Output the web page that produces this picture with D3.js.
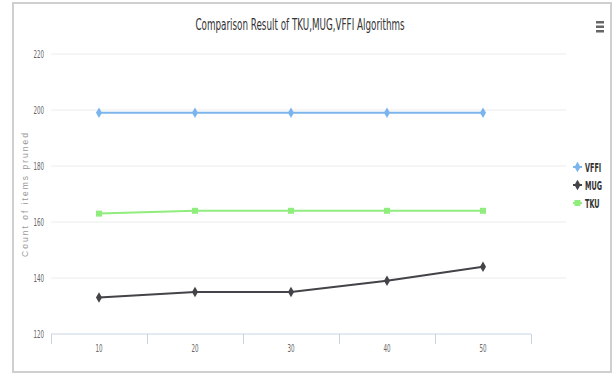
<!DOCTYPE html>
<html><head><meta charset="utf-8">
<script src="https://cdn.jsdelivr.net/npm/d3@7"></script>
<style>
html,body{margin:0;padding:0;background:#fff;}
svg{display:block;}
</style></head>
<body>
<script>
const categories = ["10","20","30","40","50"];
const vffi = [199,199,199,199,199];
const mug = [133,135,135,139,144];
const tku = [163,164,164,164,164];
const yTicks = [120,140,160,180,200,220];
const seriesNames = ["VFFI","MUG","TKU"];
const seriesColors = ["#7cb5ec","#434348","#90ed7d"];
const titleText = "Comparison Result of TKU,MUG,VFFI Algorithms";
const yTitle = "Count of items pruned";

(function(){
const W=616,H=376;
const svg=d3.select("body").append("svg").attr("width",W).attr("height",H);
const cond="'DejaVu Sans Condensed','DejaVu Sans',sans-serif";

function ctext(g,px,py,str,opts){
  const t=g.append("text").attr("transform",`translate(${px},${py}) scale(${opts.sx},1)`)
    .attr("text-anchor",opts.anchor||"start").attr("font-family",opts.family||cond)
    .attr("font-size",opts.size).attr("fill",opts.fill).text(str);
  if(opts.weight) t.attr("font-weight",opts.weight);
  return t;
}

// frame
svg.append("rect").attr("x",13).attr("y",3).attr("width",598).attr("height",369)
  .attr("fill","#fff").attr("stroke","#cfcfcf").attr("stroke-width",2);

const pL=51,pR=531,pT=54,pB=334;
const x=d3.scaleBand().domain(categories).range([pL,pR]);
const y=d3.scaleLinear().domain([120,220]).range([pB,pT]);

// gridlines
svg.append("g").selectAll("line").data(yTicks.filter(d=>d>120)).join("line")
  .attr("x1",pL).attr("x2",566).attr("y1",d=>y(d)).attr("y2",d=>y(d))
  .attr("stroke","#ececec").attr("stroke-width",1);

// y labels
const yl=svg.append("g");
yTicks.forEach(d=>ctext(yl,44,y(d)+3.5,d,{sx:0.62,size:10,fill:"#666",anchor:"end"}));

// x axis
const xa=svg.append("g").attr("transform",`translate(0,${pB})`)
  .call(d3.axisBottom(x).tickSizeOuter(0).tickSize(0));
xa.select(".domain").remove();
xa.selectAll(".tick text").remove();
xa.append("line").attr("x1",pL).attr("x2",pR).attr("stroke","#c8d4e4");
const bounds=categories.map(c=>x(c)).concat([pR]);
xa.selectAll(".bt").data(bounds).join("line").attr("class","bt")
  .attr("x1",d=>d+0.5).attr("x2",d=>d+0.5).attr("y1",0).attr("y2",10).attr("stroke","#c8d4e4");
xa.selectAll(".tick").each(function(d){
  ctext(d3.select(this),0,18,d,{sx:0.62,size:10,fill:"#666",anchor:"middle"});
});

// y title
svg.append("text").attr("transform",`translate(27.5,${195}) rotate(-90)`)
  .attr("text-anchor","middle").attr("font-family","'Liberation Sans',Arial,sans-serif")
  .attr("font-size",8.5).attr("fill","#999")
  .attr("textLength",124).attr("lengthAdjust","spacing").text(yTitle);

// title
ctext(svg,300,30,titleText,{sx:0.61,size:16,fill:"#333",anchor:"middle"});

// menu icon
[0,1,2].forEach(i=>svg.append("rect").attr("x",596).attr("y",21+i*4.5).attr("width",8).attr("height",2.5).attr("fill","#666"));

const cx=c=>x(c)+x.bandwidth()/2;
const line=d3.line().x((d,i)=>cx(categories[i])).y(d=>y(d));
const data=[vffi,mug,tku];
const symbols=[d3.symbolDiamond,d3.symbolDiamond,d3.symbolSquare];
data.forEach((vals,k)=>{
  svg.append("path").datum(vals).attr("d",line).attr("fill","none")
    .attr("stroke",seriesColors[k]).attr("stroke-width",2);
  svg.append("g").selectAll("path").data(vals).join("path")
    .attr("transform",(d,i)=>`translate(${cx(categories[i])},${y(d)})`)
    .attr("d",d3.symbol().type(symbols[k]).size(k==2?36:32)).attr("fill",seriesColors[k]);
});

// legend
const lg=svg.append("g");
seriesNames.forEach((n,i)=>{
  const yy=167+i*18;
  lg.append("line").attr("x1",573).attr("x2",582).attr("y1",yy).attr("y2",yy).attr("stroke",seriesColors[i]).attr("stroke-width",2);
  lg.append("path").attr("transform",`translate(577.5,${yy})`).attr("d",d3.symbol().type(symbols[i]).size(i==2?36:32)).attr("fill",seriesColors[i]);
  ctext(lg,585,yy+4.5,n,{sx:0.6,size:12,fill:"#333",weight:"bold"});
});
})();
</script>
</body></html>
